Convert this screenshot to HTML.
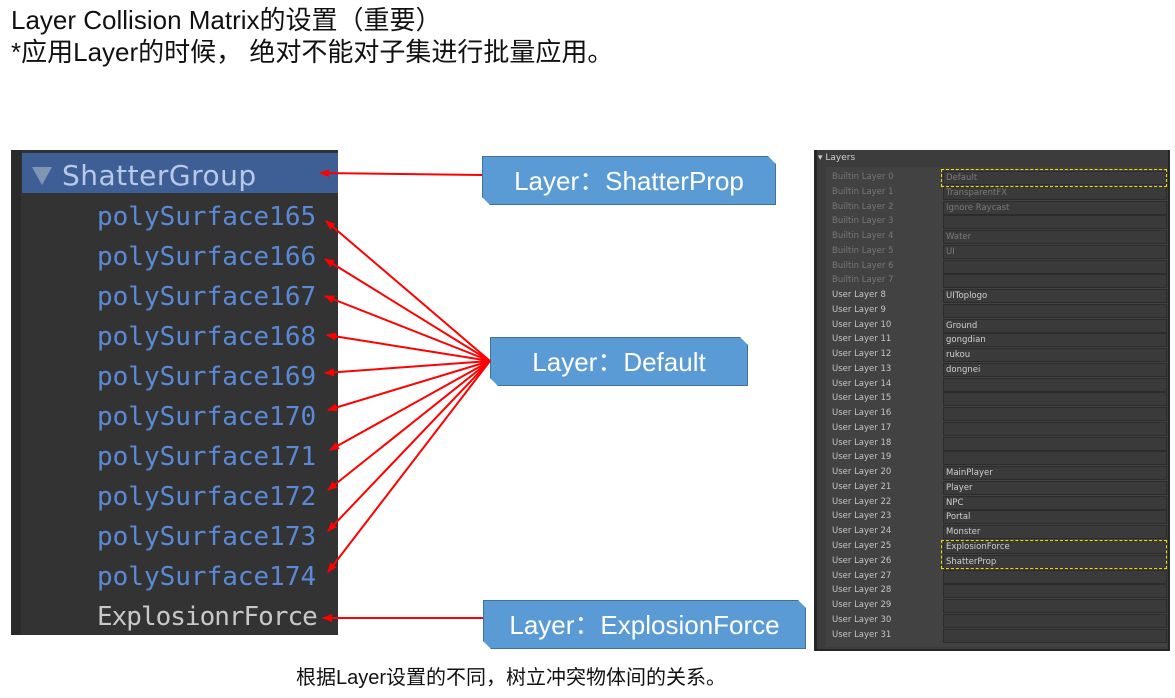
<!DOCTYPE html>
<html><head><meta charset="utf-8"><style>
body{margin:0;width:1175px;height:698px;background:#fff;position:relative;overflow:hidden;font-family:"Liberation Sans","Noto Sans CJK SC",sans-serif}
.a{position:absolute}
.t{font-size:26px;color:#111;left:11px;white-space:nowrap;line-height:30px}
.ps{position:absolute;left:97px;font-family:"DejaVu Sans Mono",monospace;font-size:26px;color:#5a8ad6;line-height:30px;white-space:nowrap}
.lb{position:absolute;left:832px;font-family:"DejaVu Sans","Liberation Sans",sans-serif;font-size:8.5px;color:#c4c4c4;line-height:13px;white-space:nowrap}
.lb.b{color:#767676}
.f{position:absolute;left:943px;width:220px;height:12px;background:#3a3a3a;border:1px solid #2c2c2c;font-family:"DejaVu Sans",sans-serif;font-size:8.5px;color:#d0d0d0;line-height:12px;padding-left:2px;box-sizing:content-box;white-space:nowrap}
.f.b{color:#7a7a7a}
.co{position:absolute;background:#5b9bd5;border:1.5px solid #41719c;color:#fff;font-size:26px;text-align:center;box-sizing:border-box;clip-path:polygon(0 0,calc(100% - 8px) 0,100% 8px,100% 100%,8px 100%,0 calc(100% - 8px));font-family:"Liberation Sans","Noto Sans CJK SC",sans-serif}
.dash{position:absolute;border:1.5px dashed #f0e000;box-sizing:border-box}
</style></head><body>
<div class="a t" style="top:5px">Layer Collision Matrix的设置（重要）</div>
<div class="a t" style="top:37px">*应用Layer的时候， 绝对不能对子集进行批量应用。</div>

<!-- left panel -->
<div class="a" style="left:11px;top:150px;width:327px;height:485px;background:#333333"></div>
<div class="a" style="left:11px;top:150px;width:10px;height:485px;background:#2a2a2a"></div>
<div class="a" style="left:22px;top:153px;width:316px;height:40px;background:#3e5f96"></div>
<div class="a" style="left:32px;top:167px;width:0;height:0;border-left:10px solid transparent;border-right:10px solid transparent;border-top:18px solid #8094b4"></div>
<div class="a" style="left:62px;top:160px;font-family:'DejaVu Sans',sans-serif;font-size:28px;line-height:32px;color:#b8c8e8;white-space:nowrap;letter-spacing:0.5px">ShatterGroup</div>
<div class="ps" style="top:202px">polySurface165</div>
<div class="ps" style="top:242px">polySurface166</div>
<div class="ps" style="top:282px">polySurface167</div>
<div class="ps" style="top:322px">polySurface168</div>
<div class="ps" style="top:362px">polySurface169</div>
<div class="ps" style="top:402px">polySurface170</div>
<div class="ps" style="top:442px">polySurface171</div>
<div class="ps" style="top:482px">polySurface172</div>
<div class="ps" style="top:522px">polySurface173</div>
<div class="ps" style="top:562px">polySurface174</div>
<div class="ps" style="top:602px;color:#c8c8c8;letter-spacing:-1px">ExplosionrForce</div>

<!-- callouts -->
<div class="co" style="left:482px;top:156px;width:294px;height:49px;line-height:48px">Layer：ShatterProp</div>
<div class="co" style="left:490px;top:337px;width:258px;height:49px;line-height:48px">Layer：Default</div>
<div class="co" style="left:483px;top:600px;width:323px;height:49px;line-height:48px">Layer：ExplosionForce</div>

<svg class="a" style="left:0;top:0" width="1175" height="698">
<defs><marker id="m" markerWidth="10" markerHeight="8" refX="9" refY="4" orient="auto" markerUnits="userSpaceOnUse"><path d="M0,0 L10,4 L0,8 z" fill="#ff0000"/></marker></defs>
<g stroke="#ff0000" stroke-width="2" fill="none" marker-end="url(#m)">
<line x1="482" y1="175" x2="320" y2="173"/>
<line x1="490" y1="361" x2="326" y2="221"/>
<line x1="490" y1="361" x2="325" y2="259"/>
<line x1="490" y1="361" x2="325" y2="296"/>
<line x1="490" y1="361" x2="327" y2="335"/>
<line x1="490" y1="361" x2="325" y2="373"/>
<line x1="490" y1="361" x2="328" y2="410"/>
<line x1="490" y1="361" x2="330" y2="450"/>
<line x1="490" y1="361" x2="328" y2="490"/>
<line x1="490" y1="361" x2="328" y2="531"/>
<line x1="490" y1="361" x2="328" y2="572"/>
<line x1="483" y1="618" x2="323" y2="618"/>
</g></svg>

<!-- right panel -->
<div class="a" style="left:814px;top:150px;width:356px;height:501px;background:#262626"></div>
<div class="a" style="left:817px;top:150px;width:351px;height:499px;background:#3c3c3c"></div>
<div class="a" style="left:826px;top:167px;width:341px;height:480px;background:#424242"></div>
<div class="a" style="left:818px;top:153px;font-family:'DejaVu Sans',sans-serif;font-size:9px;color:#d0d0d0">▾ Layers</div>

<div class="lb b" style="top:171px">Builtin Layer 0</div><div class="f b" style="top:171px">Default</div>
<div class="lb b" style="top:186px">Builtin Layer 1</div><div class="f b" style="top:186px">TransparentFX</div>
<div class="lb b" style="top:201px">Builtin Layer 2</div><div class="f b" style="top:201px">Ignore Raycast</div>
<div class="lb b" style="top:215px">Builtin Layer 3</div><div class="f b" style="top:215px"></div>
<div class="lb b" style="top:230px">Builtin Layer 4</div><div class="f b" style="top:230px">Water</div>
<div class="lb b" style="top:245px">Builtin Layer 5</div><div class="f b" style="top:245px">UI</div>
<div class="lb b" style="top:260px">Builtin Layer 6</div><div class="f b" style="top:260px"></div>
<div class="lb b" style="top:274px">Builtin Layer 7</div><div class="f b" style="top:274px"></div>
<div class="lb" style="top:289px">User Layer 8</div><div class="f" style="top:289px">UIToplogo</div>
<div class="lb" style="top:304px">User Layer 9</div><div class="f" style="top:304px"></div>
<div class="lb" style="top:319px">User Layer 10</div><div class="f" style="top:319px">Ground</div>
<div class="lb" style="top:333px">User Layer 11</div><div class="f" style="top:333px">gongdian</div>
<div class="lb" style="top:348px">User Layer 12</div><div class="f" style="top:348px">rukou</div>
<div class="lb" style="top:363px">User Layer 13</div><div class="f" style="top:363px">dongnei</div>
<div class="lb" style="top:378px">User Layer 14</div><div class="f" style="top:378px"></div>
<div class="lb" style="top:392px">User Layer 15</div><div class="f" style="top:392px"></div>
<div class="lb" style="top:407px">User Layer 16</div><div class="f" style="top:407px"></div>
<div class="lb" style="top:422px">User Layer 17</div><div class="f" style="top:422px"></div>
<div class="lb" style="top:437px">User Layer 18</div><div class="f" style="top:437px"></div>
<div class="lb" style="top:451px">User Layer 19</div><div class="f" style="top:451px"></div>
<div class="lb" style="top:466px">User Layer 20</div><div class="f" style="top:466px">MainPlayer</div>
<div class="lb" style="top:481px">User Layer 21</div><div class="f" style="top:481px">Player</div>
<div class="lb" style="top:496px">User Layer 22</div><div class="f" style="top:496px">NPC</div>
<div class="lb" style="top:510px">User Layer 23</div><div class="f" style="top:510px">Portal</div>
<div class="lb" style="top:525px">User Layer 24</div><div class="f" style="top:525px">Monster</div>
<div class="lb" style="top:540px">User Layer 25</div><div class="f" style="top:540px">ExplosionForce</div>
<div class="lb" style="top:555px">User Layer 26</div><div class="f" style="top:555px">ShatterProp</div>
<div class="lb" style="top:570px">User Layer 27</div><div class="f" style="top:570px"></div>
<div class="lb" style="top:584px">User Layer 28</div><div class="f" style="top:584px"></div>
<div class="lb" style="top:599px">User Layer 29</div><div class="f" style="top:599px"></div>
<div class="lb" style="top:614px">User Layer 30</div><div class="f" style="top:614px"></div>
<div class="lb" style="top:629px">User Layer 31</div><div class="f" style="top:629px"></div>

<div class="dash" style="left:941px;top:169px;width:226px;height:18px"></div>
<div class="dash" style="left:941px;top:540px;width:226px;height:29px"></div>

<div class="a" style="left:296px;top:666px;font-size:20px;line-height:24px;color:#111;white-space:nowrap">根据Layer设置的不同，树立冲突物体间的关系。</div>
</body></html>
